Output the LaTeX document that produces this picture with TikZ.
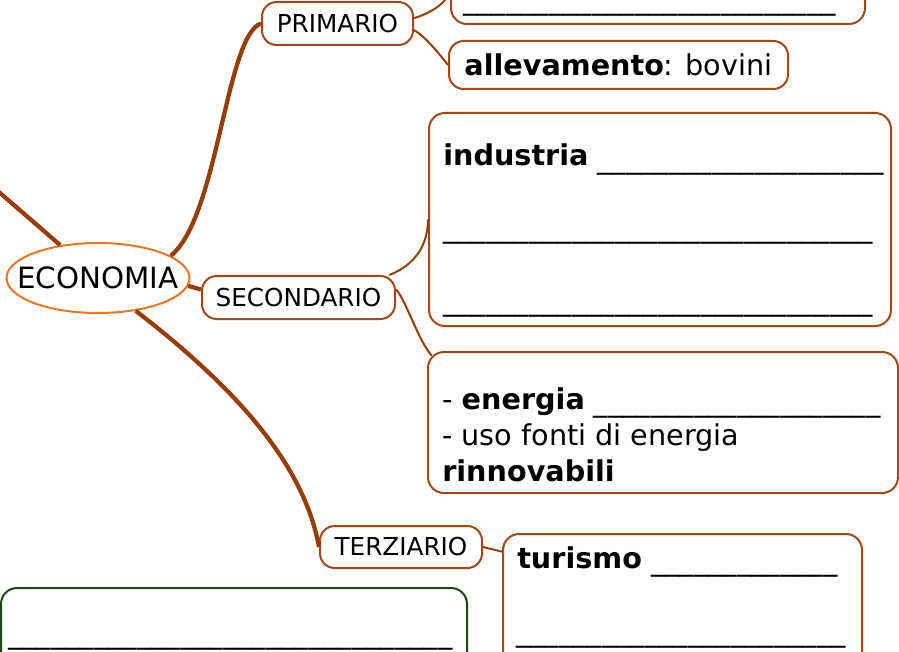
\documentclass[tikz,border=0pt]{standalone}
\usepackage{fontspec}
\setmainfont{DejaVu Sans}
\usetikzlibrary{shapes.geometric,calc}
\definecolor{mmbrown}{RGB}{153,61,8}
\definecolor{mmbox}{RGB}{163,72,24}
\definecolor{mmorange}{RGB}{236,118,36}
\definecolor{mmgreen}{RGB}{28,72,18}
\newcommand\blanks[1]{\raisebox{-.07em}{\foreach\bi in {1,...,#1}{\_}}}

\begin{document}
\begin{tikzpicture}[x=0.75pt, y=-0.75pt,
  labelbox/.style={draw=mmbox, line width=1.5pt, rounded corners=11pt, fill=white, inner sep=0pt, font=\fontsize{18.5}{22}\selectfont},
  notebox/.style={draw=mmbox, line width=1.5pt, rounded corners=12pt, inner sep=0pt},
  notetext/.style={anchor=base west, inner sep=0pt, font=\fontsize{21.5}{26}\selectfont},
  branch/.style={draw=mmbrown, line width=3.2pt},
  twig/.style={draw=mmbrown, line width=1.5pt}]
\useasboundingbox (0,0) rectangle (899,652);
\clip (0,0) rectangle (899,652);

% centre
\node[draw=mmorange, line width=1.5pt, ellipse, minimum width=137.25pt, minimum height=52.5pt, inner xsep=-12pt, inner ysep=0pt, font=\fontsize{22}{26}\selectfont] (eco) at (98,278) {ECONOMIA};
\coordinate (edge) at (-4,189.5);

% sectors
\node[labelbox, minimum width=113.25pt, minimum height=32.25pt] (prim) at (337.5,23.5) {PRIMARIO};
\node[labelbox, minimum width=144.75pt, minimum height=32.25pt] (sec) at (298.5,297.5) {SECONDARIO};
\node[labelbox, minimum width=121.5pt, minimum height=31.5pt] (ter) at (401,547) {TERZIARIO};

% notes
\node[notebox, minimum width=310.5pt, minimum height=48pt] (top) at (658,-8) {};
\node[notetext] (top-t) at (463,7) {\blanks{26}};

\node[notebox, rounded corners=11pt, minimum width=254.25pt, minimum height=36pt, font=\fontsize{21.5}{26}\selectfont] (alle) at (618.5,65) {\textbf{allevamento}: bovini};

\node[notebox, minimum width=346.5pt, minimum height=159.75pt] (ind) at (660,219.5) {};
\node[notetext] (ind-t1) at (443,166) {\textbf{industria} \blanks{20}};
\node[notetext] (ind-t2) at (443,235) {\blanks{30}};
\node[notetext] (ind-t3) at (443,308) {\blanks{30}};

\node[notebox, minimum width=352.5pt, minimum height=105.75pt] (ene) at (663,422.5) {};
\node[notetext] (ene-t1) at (442,409) {- \textbf{energia} \blanks{20}};
\node[notetext] (ene-t2) at (442,445) {- uso fonti di energia};
\node[notetext] (ene-t3) at (442,481) {\textbf{rinnovabili}};

\node[notebox, minimum width=269.25pt, minimum height=124.5pt] (tur) at (682.5,617) {};
\node[notetext] (tur-t1) at (517,568) {\textbf{turismo} \blanks{13}};
\node[notetext] (tur-t2) at (516,639) {\blanks{23}};

\node[notebox, draw=mmgreen, minimum width=349.5pt, minimum height=99pt] (grn) at (234,654) {};
\node[notetext] (grn-t1) at (8,641) {\blanks{31}};

% connectors
\draw[branch] (edge) -- (eco.139);
\draw[branch] (eco.17) .. controls (218,218) and (226,35) .. (prim.west);
\draw[branch] (eco.-5) -- ([yshift=6pt]sec.west);
\draw[branch] (eco.-41) .. controls (245,395) and (305,470) .. (ter.west);
\draw[twig] ([yshift=4pt]prim.east) .. controls (428,14) and (445,5) .. (top.west);
\draw[twig] ([yshift=-5pt]prim.east) .. controls (425,36) and (440,55) .. (alle.west);
\draw[twig] ([xshift=-5pt]sec.north east) .. controls (415,265) and (428,245) .. (ind.west);
\draw[twig] ([yshift=6pt]sec.east) .. controls (405,298) and (418,340) .. ([xshift=3.5pt,yshift=-3.5pt]ene.north west);
\draw[twig] (ter.east) -- ([yshift=-14pt]tur.north west);
\end{tikzpicture}
\end{document}
